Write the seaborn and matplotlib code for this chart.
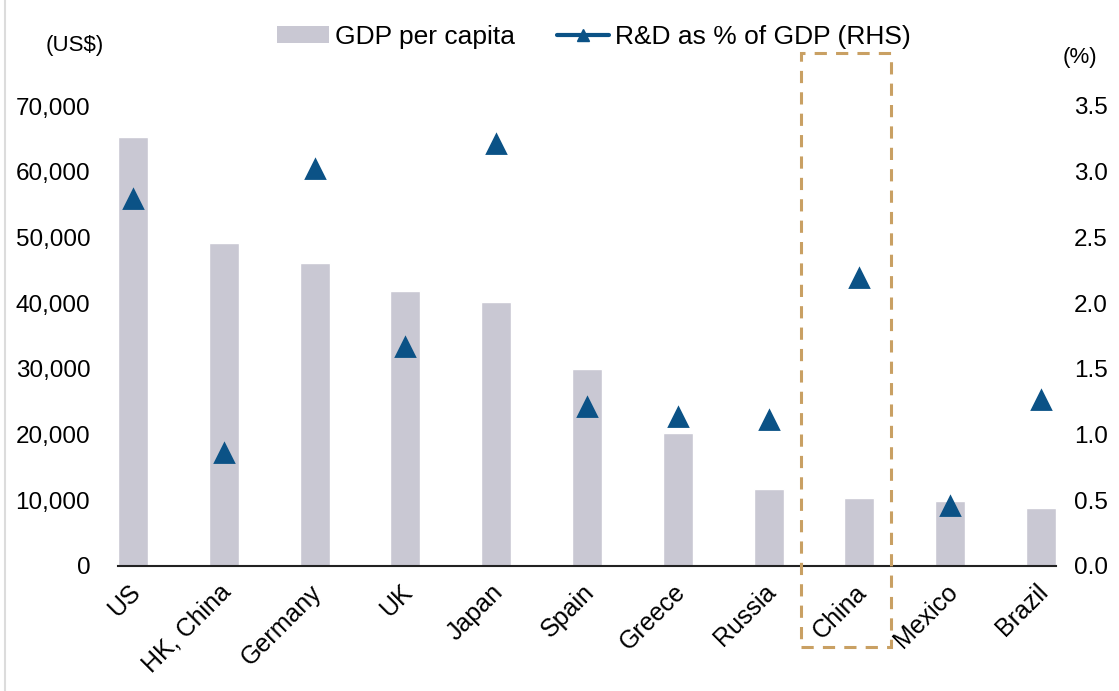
import numpy as np
import pandas as pd
import matplotlib
matplotlib.use("Agg")
import matplotlib.pyplot as plt
import matplotlib.transforms as mtransforms
from matplotlib.patches import Patch, Rectangle
from matplotlib.lines import Line2D
import seaborn as sns

countries = ["US", "HK, China", "Germany", "UK", "Japan", "Spain", "Greece",
             "Russia", "China", "Mexico", "Brazil"]
gdp_per_capita = [65300, 49150, 46100, 41850, 40170, 29980, 20200, 11720, 10400, 9900, 8830]
rd_pct_gdp = [2.79, 0.86, 3.02, 1.67, 3.21, 1.21, 1.13, 1.11, 2.19, 0.46, 1.26]
left_ticks = [0, 10000, 20000, 30000, 40000, 50000, 60000, 70000]
right_ticks = [0.0, 0.5, 1.0, 1.5, 2.0, 2.5, 3.0, 3.5]
highlight = "China"

sns.set_theme(style="white")
plt.rcParams["font.family"] = ["Liberation Sans", "DejaVu Sans"]
plt.rcParams["text.color"] = "black"
plt.rcParams["xtick.color"] = "black"
plt.rcParams["ytick.color"] = "black"

BAR = "#c9c8d3"
BLUE = "#0b5286"
BOX = "#c9a063"
FS = 17.5

df = pd.DataFrame({"country": countries, "gdp": gdp_per_capita, "rd": rd_pct_gdp})

fig = plt.figure(figsize=(11.19, 6.91), dpi=100)
ax = fig.add_axes([118 / 1119, 1 - 566 / 691, (1056 - 118) / 1119, 460 / 691])

sns.barplot(data=df, x="country", y="gdp", order=countries, color=BAR,
            width=0.33, saturation=1, ax=ax)
ax2 = ax.twinx()
sns.pointplot(data=df, x="country", y="rd", order=countries, color=BLUE,
              markers="^", linestyle="none", markersize=13, ax=ax2,
              errorbar=None)

for a in (ax, ax2):
    a.set_xlim(-0.165, len(countries) - 1 + 0.165)
    a.set_xlabel("")
    a.set_ylabel("")
    for s in a.spines.values():
        s.set_visible(False)
    a.grid(False)
    a.tick_params(length=0)

ax.set_ylim(0, 70000)
ax2.set_ylim(0, 3.5)
ax.set_yticks(left_ticks)
ax.set_yticklabels([f"{v:,}" for v in left_ticks], fontsize=FS, color="black")
ax2.set_yticks(right_ticks)
ax2.set_yticklabels([f"{v:.1f}" for v in right_ticks], fontsize=FS, color="black")
ax.tick_params(axis="y", pad=20)
ax2.tick_params(axis="y", pad=13)
ax.spines["bottom"].set_visible(True)
ax.spines["bottom"].set_color("#222222")
ax.spines["bottom"].set_linewidth(1.5)
ax.set_facecolor("none")
ax2.set_facecolor("none")

ax.set_xticks(range(len(countries)))
ax.set_xticklabels(countries, fontsize=18, rotation=45, ha="right",
                   rotation_mode="anchor", color="black")
ax.tick_params(axis="x", pad=10)
offset = mtransforms.ScaledTranslation(-5 / 100, 0, fig.dpi_scale_trans)
for lbl in ax.get_xticklabels():
    lbl.set_transform(lbl.get_transform() + offset)
ax2.tick_params(axis="x", labelbottom=False)

# units
fig.text(46 / 1119, 1 - 45 / 691, "(US$)", fontsize=16, ha="left", va="center")
fig.text(1063 / 1119, 1 - 58 / 691, "(%)", fontsize=16, ha="left", va="center")

# highlight box around China
hi = countries.index(highlight)
trans = mtransforms.blended_transform_factory(ax.transData, ax.transAxes)
rect = Rectangle((hi - 0.64, -0.176), 0.99, 1.115 + 0.176, transform=trans,
                 fill=False, edgecolor=BOX, linewidth=2.2, linestyle=(0, (4, 3)),
                 clip_on=False, zorder=5)
ax.add_patch(rect)

handles = [Patch(facecolor=BAR, edgecolor="none", label="GDP per capita"),
           Line2D([0], [0], color=BLUE, lw=3, marker="^", markersize=9,
                  label="R&D as % of GDP (RHS)")]
fig.legend(handles=handles, loc="center", bbox_to_anchor=(594 / 1119, 1 - 37 / 691),
           ncol=2, frameon=False, fontsize=19, handlelength=1.95, handleheight=0.6,
           handletextpad=0.23, columnspacing=1.6)

fig.add_artist(Line2D([5 / 1119, 5 / 1119], [0.0, 1.0], color="#dcdcdc", lw=1.5))

fig.savefig("out.png", dpi=100)
